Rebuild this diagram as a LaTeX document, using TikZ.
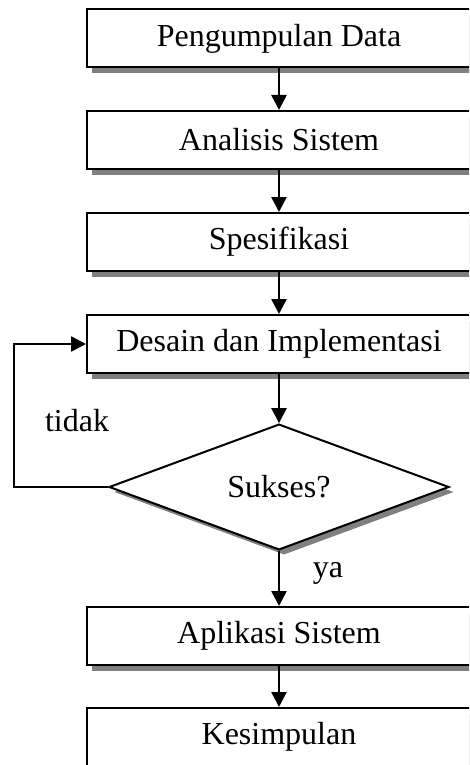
\documentclass[tikz,border=0pt]{standalone}
\usepackage{fontspec}
\setmainfont{Liberation Serif}
\usetikzlibrary{arrows.meta,shadows,shapes.geometric}

\begin{document}
\begin{tikzpicture}[x=1pt, y=-1pt,
    kotak/.style={draw, line width=2pt, fill=white, minimum width=384pt, minimum height=58pt, inner sep=0pt,
        font=\fontsize{32}{38}\selectfont,
        drop shadow={shadow xshift=5pt, shadow yshift=-6pt, fill=gray, opacity=1}},
    keputusan/.style={diamond, draw, line width=2pt, fill=white, minimum width=340pt, minimum height=114pt, inner sep=0pt,
        font=\fontsize{32}{38}\selectfont,
        drop shadow={shadow xshift=5pt, shadow yshift=-5pt, fill=gray, opacity=1}},
    panah/.style={line width=2.5pt, -{Triangle[length=15pt, width=15pt]}},
    label/.style={font=\fontsize{32}{38}\selectfont}]
    \clip (0,0) rectangle (469,765);

    % Tahapan
    \node[kotak] (data) at (279,38.5) {Pengumpulan Data};
    \node[kotak] (analisis) at (279,140) {Analisis Sistem};
    \node[kotak] (spesifikasi) at (279,242) {Spesifikasi};
    \node[kotak] (desain) at (279,344) {Desain dan Implementasi};

    % Keputusan
    \node[keputusan] (sukses) at (279,487) {Sukses?};

    \node[kotak] (aplikasi) at (279,636) {Aplikasi Sistem};
    \node[kotak] (kesimpulan) at (279,737) {Kesimpulan};

    % Alur utama
    \draw[panah] (data) -- (analisis);
    \draw[panah] (analisis) -- (spesifikasi);
    \draw[panah] (spesifikasi) -- (desain);
    \draw[panah] (desain) -- (sukses);
    \draw[panah] (sukses) -- (aplikasi);
    \draw[panah] (aplikasi) -- (kesimpulan);

    % Ulang jika tidak sukses
    \coordinate (balik) at (14,487);
    \draw[panah] (sukses.west) -- (balik) |- (desain.west);

    \node[label] (tidak) at (77,421) {tidak};
    \node[label] (ya) at (328,573) {ya};
\end{tikzpicture}
\end{document}
